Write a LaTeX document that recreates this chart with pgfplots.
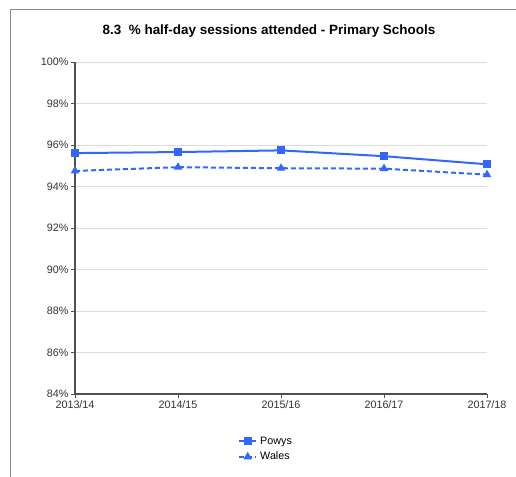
\documentclass[border=0pt]{standalone}
\usepackage{pgfplots}
\pgfplotsset{compat=1.18}
\usepackage{fontspec}
\setmainfont{Liberation Sans}
\definecolor{lineblue}{RGB}{51,102,255}
\definecolor{axisgray}{RGB}{80,80,80}
\definecolor{gridgray}{RGB}{220,220,220}
\definecolor{framegray}{RGB}{140,140,140}
\begin{document}
\begin{tikzpicture}[x=1bp,y=1bp]
\path[use as bounding box] (0,0) rectangle (516,477);
\draw[framegray, line width=1bp] (10,0) -- (10,467) -- (516,467);
\node[font=\bfseries\fontsize{13.5}{15}\selectfont] at (269,446) {8.3\ \ \% half-day sessions attended - Primary Schools};
\begin{axis}[
  at={(75bp,83bp)}, anchor=south west,
  scale only axis, width=412bp, height=332bp,
  xmin=0, xmax=4, ymin=84, ymax=100,
  axis x line*=bottom, axis y line*=left,
  axis line style={-, axisgray, line width=1.8bp},
  xtick={0,1,2,3,4},
  xticklabels={2013/14,2014/15,2015/16,2016/17,2017/18},
  ytick={84,86,88,90,92,94,96,98,100},
  yticklabels={84\%,86\%,88\%,90\%,92\%,94\%,96\%,98\%,100\%},
  tick align=outside, major tick length=4bp,
  tick style={axisgray, line width=0.8bp},
  ymajorgrids, major grid style={gridgray, line width=0.8bp},
  ticklabel style={font=\fontsize{10.8}{12}\selectfont, text=black!80},
  xticklabel style={yshift=1bp},
  yticklabel style={xshift=1bp},
  clip=false,
  legend style={at={(0.465,-0.166)}, anchor=center, draw=none, fill=none,
    font=\fontsize{10.8}{12}\selectfont, row sep=2.5bp, inner sep=1bp,
    nodes={inner xsep=3bp}},
  legend cell align=left,
]
\addplot[lineblue, line width=2bp, mark=square*, mark size=3bp, mark options={solid}]
  coordinates {(0,95.61) (1,95.66) (2,95.74) (3,95.46) (4,95.07)};
\addlegendentry{Powys}
\addplot[lineblue, line width=2bp, dash pattern=on 5bp off 3bp, mark=triangle*, mark size=3bp, mark options={solid}]
  coordinates {(0,94.75) (1,94.93) (2,94.88) (3,94.86) (4,94.57)};
\addlegendentry{Wales}
\end{axis}
\end{tikzpicture}
\end{document}
